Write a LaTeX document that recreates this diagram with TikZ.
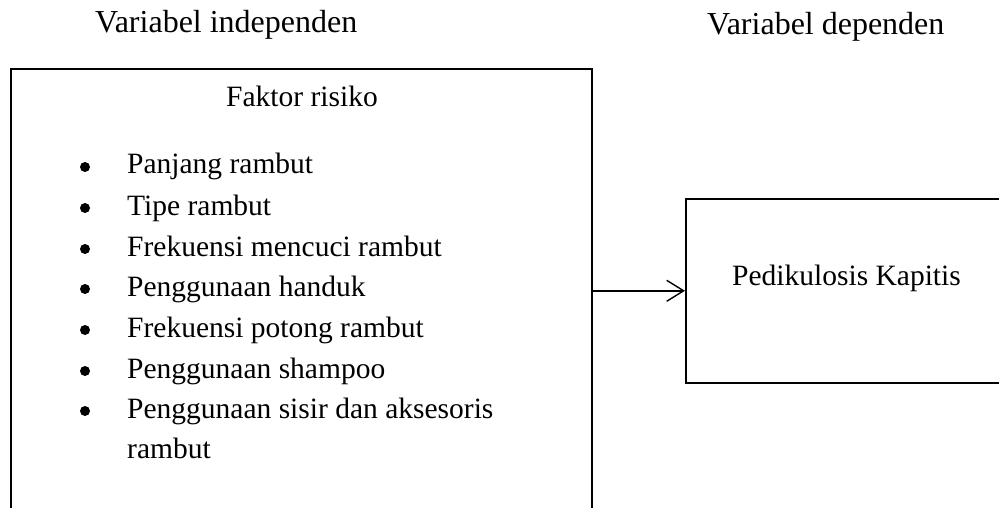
\documentclass[tikz,border=0pt]{standalone}
\usepackage{fontspec}
\setmainfont{Liberation Serif}
\usetikzlibrary{arrows.meta}
\tikzset{
  lbl/.style={inner sep=0pt, anchor=base west, font=\fontsize{29.5}{40.7}\selectfont},
  hdr/.style={lbl, font=\fontsize{32}{40}\selectfont},
  boxstyle/.style={draw=black, line width=1.6pt, inner sep=0pt, anchor=north west},
  dotstyle/.style={circle, fill=black, inner sep=0pt, minimum size=10pt},
  conn/.style={line width=1.4pt, -{Straight Barb[length=17pt,width=21pt,line width=1.4pt]}}
}
\begin{document}
\begin{tikzpicture}[x=1pt,y=-1pt]
\useasboundingbox (0,0) rectangle (999,508);
\clip (0,0) rectangle (999,508);
% headers
\node[hdr] (hind) at (95,33) {Variabel independen};
\node[hdr] (hdep) at (707,35) {Variabel dependen};
% boxes
\node[boxstyle, minimum width=581pt, minimum height=444pt] (lbox) at (10,68) {};
\node[boxstyle, minimum width=345pt, minimum height=184pt] (rbox) at (685,198) {};
% left content
\node[lbl] (title) at (226,107) {Faktor risiko};
\foreach \i/\y/\t in {1/174/Panjang rambut, 2/215/Tipe rambut, 3/256/Frekuensi mencuci rambut, 4/296/Penggunaan handuk, 5/337/Frekuensi potong rambut, 6/378/Penggunaan shampoo, 7/418/Penggunaan sisir dan aksesoris}{
  \node[dotstyle] (b\i) at (85,\y-7) {};
  \node[lbl] (it\i) at (127,\y) {\t};
}
\node[lbl] (it7b) at (127,458) {rambut};
% right content
\node[lbl] (dep) at (732,285) {Pedikulosis Kapitis};
% connector
\draw[conn] (lbox.east) -- (rbox.west);
\end{tikzpicture}
\end{document}
